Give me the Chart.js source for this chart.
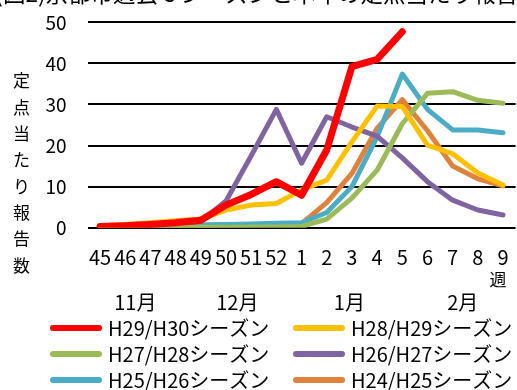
<!DOCTYPE html>
<html lang="ja">
<head>
<meta charset="utf-8">
<title>京都市 定点当たり報告数</title>
<script src="https://cdn.jsdelivr.net/npm/chart.js@4.4.1/dist/chart.umd.min.js"></script>
<style>
  html, body { margin: 0; padding: 0; background: #fff; }
  #wrap { width: 517px; height: 390px; position: relative; }
</style>
</head>
<body>
<div id="wrap"><canvas id="c" width="517" height="390"></canvas></div>
<script>
// Week numbers (45th week to 9th week of the following year)
const weeks = ['45','46','47','48','49','50','51','52','1','2','3','4','5','6','7','8','9'];

// Reports per sentinel site, one array per season
const h29h30 = [0.3, 0.5, 0.8, 1.2, 1.8, 5.5, 8.1, 11.2, 7.9, 18.9, 39.2, 41.0, 47.7, null, null, null, null];
const h28h29 = [0.5, 0.8, 1.2, 1.7, 2.1, 4.3, 5.5, 5.9, 9.2, 11.6, 20.9, 29.6, 29.5, 20.1, 18.0, 13.3, 10.4];
const h27h28 = [0.1, 0.1, 0.1, 0.1, 0.1, 0.1, 0.2, 0.2, 0.3, 2.1, 7.2, 14.0, 25.3, 32.7, 33.1, 31.0, 30.3];
const h26h27 = [0.2, 0.3, 0.5, 0.8, 1.5, 6.5, 17.5, 28.8, 15.7, 27.0, 24.5, 22.3, 17.0, 11.2, 6.7, 4.3, 3.1];
const h25h26 = [0.3, 0.4, 0.5, 0.6, 0.7, 0.8, 0.9, 1.1, 1.2, 3.7, 10.0, 22.1, 37.4, 28.8, 23.8, 23.8, 23.1];
const h24h25 = [0.3, 0.3, 0.4, 0.4, 0.5, 0.6, 0.7, 0.9, 1.0, 6.1, 13.2, 24.2, 31.2, 23.6, 15.0, 11.9, 10.2];

const seasonNames = ['H29/H30シーズン','H28/H29シーズン','H27/H28シーズン','H26/H27シーズン','H25/H26シーズン','H24/H25シーズン'];
const seasonValues = [h29h30, h28h29, h27h28, h26h27, h25h26, h24h25];
const seasonColors = ['#FF0000','#FFC000','#9BBB59','#8064A2','#4BACC6','#E0823C'];

// Month captions placed under the week axis (category positions)
const months = ['11月','12月','1月','2月'];
const monthPos = [1.4, 5.45, 9.9, 14.4];

const yTicks = [0, 10, 20, 30, 40, 50];
const yTitle = '定点当たり報告数';
const weekUnit = '週';
const chartTitle = '(図2)京都市過去６シーズンと本年の定点当たり報告数';

const FONT = '"Noto Sans CJK JP", "Noto Sans", sans-serif';

// Extra text drawn around the plot: clipped heading, stacked axis title,
// week unit, month captions and a two-column legend.
const decorations = {
  id: 'decorations',
  afterDraw(chart) {
    const ctx = chart.ctx;
    const xs = chart.scales.x;
    ctx.save();
    ctx.setTransform(1, 0, 0, 1, 0, 0);
    ctx.fillStyle = '#000';

    // heading: glyph bottoms sit just below the top edge of the canvas
    ctx.font = '22.5px ' + FONT;
    ctx.textAlign = 'left';
    ctx.textBaseline = 'alphabetic';
    const m = ctx.measureText(chartTitle);
    const descent = m.actualBoundingBoxDescent || 0;
    ctx.fillText(chartTitle, -4.7, 7 - descent);

    // vertical axis title, one character per line
    ctx.font = '17px ' + FONT;
    ctx.textAlign = 'center';
    ctx.textBaseline = 'middle';
    Array.from(yTitle).forEach((ch, i) => {
      ctx.fillText(ch, 21.5, 81 + i * 26.3);
    });

    // unit under the last week label
    ctx.fillText(weekUnit, xs.getPixelForValue(weeks.length - 1) - 5, 280);

    // month captions
    ctx.font = '20px ' + FONT;
    months.forEach((mo, i) => {
      ctx.fillText(mo, xs.getPixelForValue(monthPos[i]), 302);
    });

    // legend: two columns, three rows
    const colX = [53, 296];
    const rowY = [328, 354, 380];
    ctx.font = '20px ' + FONT;
    chart.data.datasets.forEach((ds, i) => {
      const cx = colX[i % 2];
      const cy = rowY[Math.floor(i / 2)];
      ctx.strokeStyle = ds.borderColor;
      ctx.lineWidth = 6;
      ctx.lineCap = 'round';
      ctx.beginPath();
      ctx.moveTo(cx, cy);
      ctx.lineTo(cx + 46, cy);
      ctx.stroke();
      ctx.textAlign = 'left';
      ctx.textBaseline = 'middle';
      ctx.fillStyle = '#000';
      ctx.fillText(ds.label, cx + 55, cy);
    });
    ctx.restore();
  }
};

const datasets = seasonNames.map((name, i) => ({
  label: name,
  data: seasonValues[i],
  borderColor: seasonColors[i],
  backgroundColor: seasonColors[i],
  borderWidth: i === 0 ? 7 : 5,
  borderCapStyle: 'round',
  borderJoinStyle: 'round',
  pointRadius: 0,
  pointHoverRadius: 0,
  tension: 0,
  fill: false,
  spanGaps: false
}));

new Chart(document.getElementById('c'), {
  type: 'line',
  data: { labels: weeks, datasets },
  options: {
    responsive: false,
    devicePixelRatio: 1,
    animation: false,
    events: [],
    layout: { padding: { top: 22.3, right: 1.4, bottom: 122.3, left: 0 } },
    plugins: {
      legend: { display: false },
      title: { display: false },
      tooltip: { enabled: false }
    },
    scales: {
      x: {
        type: 'category',
        offset: true,
        grid: {
          display: true,
          drawOnChartArea: false,
          drawTicks: true,
          tickLength: 18,
          color: 'rgba(0,0,0,0)',
          tickColor: 'rgba(0,0,0,0)'
        },
        border: { display: false },
        ticks: {
          autoSkip: false,
          maxRotation: 0,
          minRotation: 0,
          padding: 0,
          color: '#000',
          font: { family: FONT, size: 20 }
        },
        afterFit(scale) { scale.height = 40; }
      },
      y: {
        min: 0,
        max: 50,
        afterBuildTicks(scale) { scale.ticks = yTicks.map(v => ({ value: v })); },
        grid: {
          color: '#000',
          lineWidth: 2,
          drawTicks: true,
          tickLength: 21,
          tickColor: 'rgba(0,0,0,0)'
        },
        border: { display: false },
        ticks: {
          padding: 0,
          color: '#000',
          font: { family: FONT, size: 19 }
        },
        afterFit(scale) { scale.width = 87.5; }
      }
    }
  },
  plugins: [decorations]
});
</script>
</body>
</html>
